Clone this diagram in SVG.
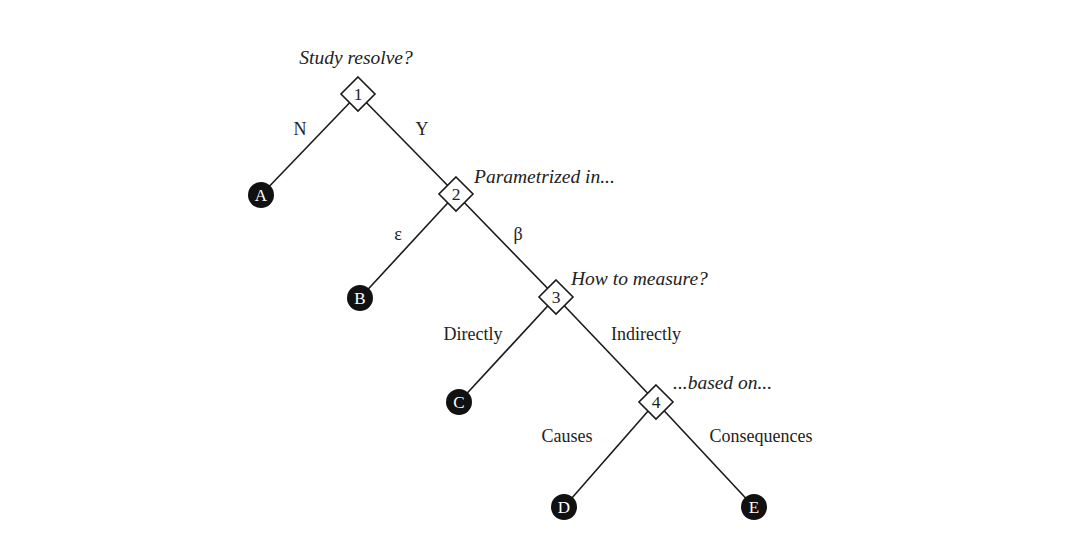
<svg xmlns="http://www.w3.org/2000/svg" width="1080" height="548" viewBox="0 0 1080 548">
<style>
.edge{stroke:#1a1a1a;stroke-width:1.6;fill:none}
.dia{fill:#fff;stroke:#1a1a1a;stroke-width:1.6}
.leaf{fill:#111}
.t{font-family:"Liberation Serif",serif;font-size:18px;fill:#222}
.q{font-family:"Liberation Serif",serif;font-size:19.5px;font-style:italic;fill:#222}
.num{font-family:"Liberation Serif",serif;font-size:17.5px;fill:#222;text-anchor:middle}
.lt{font-family:"Liberation Serif",serif;font-size:17px;fill:#fff;text-anchor:middle}
</style>
<rect width="1080" height="548" fill="#fff"/>
<g id="connectors">
<line class="edge" x1="358" y1="94" x2="261" y2="195"/>
<line class="edge" x1="358" y1="94" x2="456" y2="194"/>
<line class="edge" x1="456" y1="194" x2="360" y2="298"/>
<line class="edge" x1="456" y1="194" x2="556" y2="297"/>
<line class="edge" x1="556" y1="297" x2="459" y2="402"/>
<line class="edge" x1="556" y1="297" x2="656" y2="402"/>
<line class="edge" x1="656" y1="402" x2="564" y2="507"/>
<line class="edge" x1="656" y1="402" x2="754" y2="507"/>
</g>
<g id="edge-labels">
<text class="t" x="300" y="135" text-anchor="middle">N</text>
<text class="t" x="422" y="135" text-anchor="middle">Y</text>
<text class="t" x="398" y="240" text-anchor="middle">ε</text>
<text class="t" x="518" y="240" text-anchor="middle">β</text>
<text class="t" x="473" y="340" text-anchor="middle">Directly</text>
<text class="t" x="646" y="340" text-anchor="middle">Indirectly</text>
<text class="t" x="567" y="442" text-anchor="middle">Causes</text>
<text class="t" x="761" y="442" text-anchor="middle">Consequences</text>
</g>
<g id="d1">
<polygon class="dia" points="358,77 375,94 358,111 341,94"/>
<text class="num" x="358" y="100">1</text>
<text class="q" x="356" y="64" text-anchor="middle">Study resolve?</text>
</g>
<g id="d2">
<polygon class="dia" points="456,177 473,194 456,211 439,194"/>
<text class="num" x="456" y="200">2</text>
<text class="q" x="474" y="183">Parametrized in...</text>
</g>
<g id="d3">
<polygon class="dia" points="556,280 573,297 556,314 539,297"/>
<text class="num" x="556" y="303">3</text>
<text class="q" x="571" y="285">How to measure?</text>
</g>
<g id="d4">
<polygon class="dia" points="656,385 673,402 656,419 639,402"/>
<text class="num" x="656" y="408">4</text>
<text class="q" x="673" y="389">...based on...</text>
</g>
<g id="A"><circle class="leaf" cx="261" cy="195" r="13"/><text class="lt" x="261" y="201">A</text></g>
<g id="B"><circle class="leaf" cx="360" cy="298" r="13"/><text class="lt" x="360" y="304">B</text></g>
<g id="C"><circle class="leaf" cx="459" cy="402" r="13"/><text class="lt" x="459" y="408">C</text></g>
<g id="D"><circle class="leaf" cx="564" cy="507" r="13"/><text class="lt" x="564" y="513">D</text></g>
<g id="E"><circle class="leaf" cx="754" cy="507" r="13"/><text class="lt" x="754" y="513">E</text></g>
</svg>
